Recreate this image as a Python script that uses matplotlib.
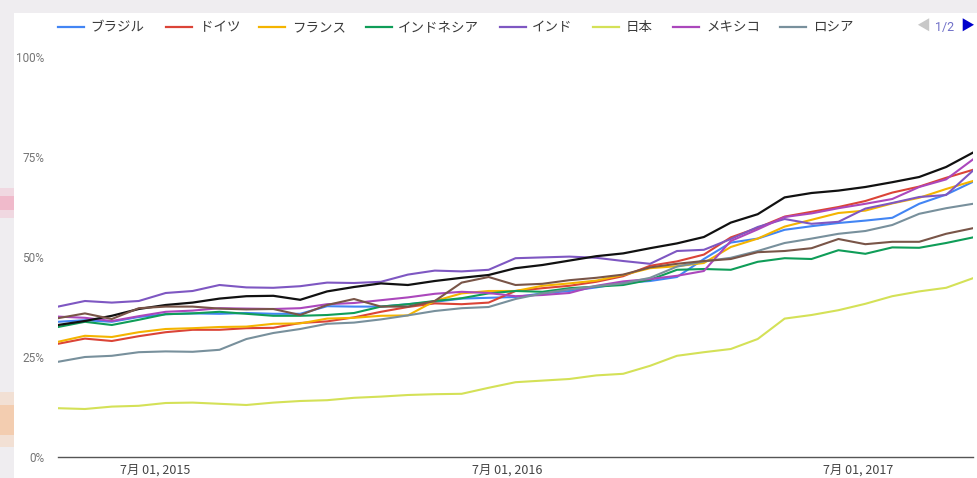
import matplotlib

matplotlib.use("Agg")
import matplotlib.pyplot as plt
import pandas as pd
from matplotlib.lines import Line2D
from matplotlib.patches import Rectangle

# sampled every 4 weeks, 2015-03-22 .. 2017-10-29 (share of searches, %)
dates = pd.date_range("2015-03-22", periods=35, freq="28D")

brazil = [33.8, 34.2, 33.8, 35.0, 35.7, 35.9, 35.8, 36.0, 35.8, 35.8, 37.7, 37.6,
          37.6, 38.2, 38.8, 39.6, 39.8, 40.0, 40.9, 41.5, 42.4, 43.5, 44.0, 45.0,
          49.5, 53.6, 54.6, 56.8, 57.7, 58.5, 59.1, 59.8, 63.3, 65.6, 68.8]
germany = [28.3, 29.6, 29.0, 30.2, 31.2, 31.8, 31.8, 32.2, 32.3, 33.5, 33.9, 34.9,
           36.3, 37.5, 38.4, 38.2, 38.6, 41.5, 42.2, 42.8, 43.8, 45.2, 47.8, 48.9,
           50.6, 54.9, 57.3, 60.1, 61.3, 62.5, 64.0, 66.1, 67.6, 69.8, 71.8]
france = [28.8, 30.3, 30.0, 31.2, 32.0, 32.2, 32.5, 32.6, 33.3, 33.4, 34.6, 34.8,
          35.3, 35.4, 39.0, 40.9, 41.5, 41.5, 42.8, 43.4, 44.1, 45.5, 47.2, 47.7,
          48.5, 52.5, 54.6, 57.6, 59.3, 61.0, 61.6, 63.4, 64.8, 67.0, 69.0]
indonesia = [32.5, 33.8, 33.0, 34.3, 35.7, 35.9, 36.3, 35.8, 35.3, 35.3, 35.5, 36.0,
             37.6, 38.2, 39.0, 39.7, 40.9, 41.5, 41.3, 42.2, 42.6, 43.0, 44.3, 46.8,
             47.0, 46.8, 48.8, 49.7, 49.5, 51.7, 50.8, 52.4, 52.3, 53.5, 54.9]
india = [37.6, 39.0, 38.6, 39.0, 41.0, 41.5, 43.0, 42.4, 42.3, 42.7, 43.6, 43.5,
         43.8, 45.6, 46.6, 46.4, 46.8, 49.7, 49.9, 50.1, 49.8, 49.0, 48.3, 51.5,
         51.8, 54.5, 57.5, 59.5, 58.3, 58.8, 62.1, 63.5, 65.0, 65.5, 71.6]
japan = [12.2, 12.0, 12.6, 12.8, 13.5, 13.6, 13.3, 13.0, 13.6, 14.0, 14.2, 14.8,
         15.1, 15.5, 15.7, 15.8, 17.3, 18.7, 19.1, 19.5, 20.4, 20.8, 22.8, 25.3,
         26.2, 27.0, 29.5, 34.6, 35.5, 36.7, 38.3, 40.2, 41.4, 42.3, 44.7]
mexico = [35.1, 34.8, 34.0, 35.2, 36.3, 36.6, 37.2, 37.1, 37.0, 37.2, 38.2, 38.5,
          39.2, 39.9, 40.8, 41.3, 41.0, 40.2, 40.5, 41.0, 42.8, 43.9, 44.5, 45.3,
          46.5, 54.0, 56.9, 60.0, 60.9, 62.2, 63.3, 64.5, 67.5, 69.4, 74.4]
russia = [23.8, 25.0, 25.3, 26.2, 26.4, 26.3, 26.8, 29.5, 31.0, 32.0, 33.3, 33.6,
          34.4, 35.4, 36.5, 37.2, 37.5, 39.5, 40.9, 41.9, 42.7, 43.4, 44.8, 47.6,
          48.9, 49.8, 51.5, 53.5, 54.6, 55.8, 56.5, 58.0, 60.8, 62.2, 63.3]
# two more series that sit on the legend's second page
page2_black = [33.0, 34.0, 35.3, 37.0, 38.0, 38.6, 39.6, 40.2, 40.3, 39.3, 41.4, 42.5,
               43.4, 43.0, 44.0, 44.8, 45.5, 47.2, 48.0, 49.1, 50.2, 50.9, 52.2, 53.4,
               55.0, 58.6, 60.7, 64.9, 66.0, 66.6, 67.5, 68.7, 70.0, 72.5, 76.1]
page2_brown = [34.7, 35.9, 34.5, 37.2, 37.6, 37.6, 37.1, 36.9, 37.0, 35.5, 38.0, 39.5,
               37.6, 37.6, 39.0, 43.6, 45.0, 43.0, 43.3, 44.2, 44.8, 45.6, 47.4, 48.3,
               49.0, 49.5, 51.2, 51.5, 52.2, 54.5, 53.2, 53.8, 53.8, 55.8, 57.2]

names = ["ブラジル", "ドイツ", "フランス", "インドネシア", "インド", "日本", "メキシコ", "ロシア"]
colors = ["#4285f4", "#db4437", "#f4b400", "#0f9d58", "#7e57c2", "#d4e157", "#ab47bc", "#78909c"]
values = [brazil, germany, france, indonesia, india, japan, mexico, russia]

y_ticks = [0, 25, 50, 75, 100]
x_ticks = pd.to_datetime(["2015-07-01", "2016-07-01", "2017-07-01"])
x_labels = ["7月 01, 2015", "7月 01, 2016", "7月 01, 2017"]

CJK = ["Noto Sans CJK JP", "DejaVu Sans"]
W, H = 978, 478


def fx(px):
    return px / W


def fy(py):
    return 1 - py / H


fig = plt.figure(figsize=(W / 100, H / 100), dpi=100)
fig.patch.set_facecolor("#efedf0")
fig.add_artist(Rectangle((fx(14), 0), 1 - fx(14), fy(13), transform=fig.transFigure,
                         facecolor="white", edgecolor="none", zorder=0))
# faint blobs on the cropped page edge
for top, h, c, a in [(188, 30, "#f3b3c6", 0.35), (196, 14, "#f08fab", 0.4),
                     (392, 55, "#f8c9a0", 0.35), (405, 30, "#f6b27a", 0.4)]:
    fig.add_artist(Rectangle((0, fy(top + h)), fx(14), h / H, transform=fig.transFigure,
                             facecolor=c, edgecolor="none", alpha=a, zorder=0))

ax = fig.add_axes([fx(58), fy(457), fx(973) - fx(58), fy(57) - fy(457)])
ax.set_facecolor("none")

for vals, c in zip(values, colors):
    ax.plot(dates, vals, color=c, lw=1.5, solid_joinstyle="round")
ax.plot(dates, page2_black, color="#111111", lw=1.6)
ax.plot(dates, page2_brown, color="#795548", lw=1.5)

ax.set_xlim(dates[0], dates[-1])
ax.set_ylim(0, 100)
for s in ["top", "right", "left"]:
    ax.spines[s].set_visible(False)
ax.spines["bottom"].set_color("#555555")
ax.spines["bottom"].set_linewidth(1.0)

ax.set_yticks(y_ticks)
ax.set_yticklabels([f"{v}%" for v in y_ticks], fontsize=8.5, color="#757575", family="Roboto")
ax.set_xticks(x_ticks)
ax.set_xticklabels(x_labels, fontsize=9, color="#444444", family=CJK)
ax.tick_params(axis="y", length=0, pad=10)
ax.tick_params(axis="x", length=0, pad=5)

# legend, first page
line_x = [58, 166, 259, 366, 500, 593, 673, 780]
text_x = [90, 200, 292, 398, 532, 626, 706, 813]
for name, c, lx, tx in zip(names, colors, line_x, text_x):
    fig.add_artist(Line2D([fx(lx), fx(lx + 26)], [fy(27), fy(27)], color=c, lw=1.6,
                          transform=fig.transFigure))
    fig.text(fx(tx), fy(27), name, fontsize=9.7, color="#3a3a3a", family=CJK,
             va="center", ha="left")

fig.text(fx(923), fy(27), "◀", fontsize=10, color="#c8c8c8", family=CJK, va="center", ha="center")
fig.text(fx(945), fy(27), "1/2", fontsize=9, color="#7070c8", family="Roboto", va="center", ha="center")
fig.text(fx(967), fy(27), "▶", fontsize=10, color="#0000cc", family=CJK, va="center", ha="center")

fig.savefig("out.png", dpi=100)
